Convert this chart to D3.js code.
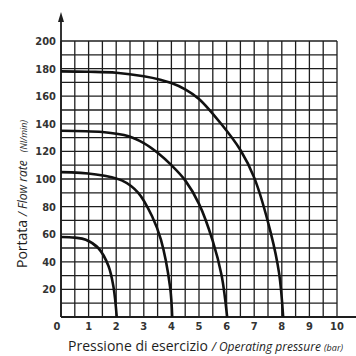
<!DOCTYPE html>
<html>
<head>
<meta charset="utf-8">
<script src="https://cdn.jsdelivr.net/npm/d3@7"></script>
<style>
  body { margin: 0; background: #fff; }
</style>
</head>
<body>
<script>
// curves: [pressure (bar), flow rate (Nl/min)]
let curve2bar = [[0, 58], [0.5, 57.5], [0.9, 56], [1.35, 50], [1.72, 37], [1.9, 22], [2.02, 0]];
let curve4bar = [[0, 105], [1.2, 103.5], [2.2, 99], [2.8, 90], [3.3, 73], [3.62, 56], [3.95, 22], [4.03, 0]];
let curve6bar = [[0, 135], [1.5, 134], [2.45, 131], [3, 126], [3.5, 119], [4, 110], [4.5, 99], [5, 82], [5.5, 55], [5.82, 30], [6.02, 0]];
let curve8bar = [[0, 178], [1, 177.7], [2, 177], [3, 174.5], [3.6, 172], [4, 169.5], [4.5, 165], [5, 158], [5.8, 140], [6.5, 121], [7, 101], [7.6, 61], [7.9, 32], [8.05, 0]];
let curves = [curve2bar, curve4bar, curve6bar, curve8bar];

let xTicks = [0, 1, 2, 3, 4, 5, 6, 7, 8, 9, 10];
let yTicks = [20, 40, 60, 80, 100, 120, 140, 160, 180, 200];

let width = 356;
let height = 356;
let ink = "#1e1e1e";

let x = d3.scaleLinear().domain([0, 10]).range([61, 337]);
let y = d3.scaleLinear().domain([0, 200]).range([317, 41]);

let svg = d3.select("body").append("svg")
    .attr("width", width)
    .attr("height", height)
    .attr("viewBox", [0, 0, width, height]);

// grid: every 0.5 bar and every 10 Nl/min
let grid = svg.append("g")
    .attr("stroke", ink)
    .attr("stroke-width", 1.3);

grid.selectAll(".v")
    .data(d3.range(0, 10.01, 0.5))
    .join("line")
    .attr("x1", d => x(d))
    .attr("x2", d => x(d))
    .attr("y1", y(0))
    .attr("y2", y(200));

grid.selectAll(".h")
    .data(d3.range(0, 200.1, 10))
    .join("line")
    .attr("x1", x(0))
    .attr("x2", x(10))
    .attr("y1", d => y(d))
    .attr("y2", d => y(d));

// axes lines
svg.append("line")
    .attr("x1", x(0)).attr("x2", width)
    .attr("y1", y(0)).attr("y2", y(0))
    .attr("stroke", ink).attr("stroke-width", 1.8);

svg.append("line")
    .attr("x1", x(0)).attr("x2", x(0))
    .attr("y1", y(0)).attr("y2", 20)
    .attr("stroke", ink).attr("stroke-width", 1.8);

svg.append("path")
    .attr("d", `M${x(0)},12 L${x(0) - 3},22 L${x(0) + 3},22 Z`)
    .attr("fill", ink);

// tick labels
svg.append("g")
    .selectAll("text")
    .data(xTicks)
    .join("text")
    .attr("x", d => d === 0 ? x(d) - 4 : x(d))
    .attr("y", 330)
    .attr("text-anchor", "middle")
    .attr("font-family", "DejaVu Sans Condensed")
    .attr("font-weight", "bold")
    .attr("font-size", 11)
    .attr("fill", "#333")
    .text(d => d);

svg.append("g")
    .selectAll("text")
    .data(yTicks)
    .join("text")
    .attr("x", 56)
    .attr("y", d => y(d) + 4)
    .attr("text-anchor", "end")
    .attr("font-family", "DejaVu Sans Condensed")
    .attr("font-weight", "bold")
    .attr("font-size", 11)
    .attr("fill", "#333")
    .text(d => d);

// curves
let line = d3.line()
    .x(d => x(d[0]))
    .y(d => y(d[1]))
    .curve(d3.curveCatmullRom.alpha(0.5));

svg.append("g")
    .selectAll("path")
    .data(curves)
    .join("path")
    .attr("fill", "none")
    .attr("stroke", "#111")
    .attr("stroke-width", 2.6)
    .attr("d", line);

// axis titles
let xTitle = svg.append("text")
    .attr("x", 68)
    .attr("y", 351)
    .attr("font-family", "Open Sans")
    .attr("fill", ink);
xTitle.append("tspan").attr("font-size", 14).text("Pressione di esercizio ");
xTitle.append("tspan").attr("font-size", 12).attr("font-style", "italic").text("/ Operating pressure ");
xTitle.append("tspan").attr("font-size", 9).attr("font-style", "italic").text("(bar)");

let yTitle = svg.append("text")
    .attr("transform", "translate(27,268) rotate(-90)")
    .attr("font-family", "Open Sans")
    .attr("fill", ink);
yTitle.append("tspan").attr("font-size", 14).text("Portata ");
yTitle.append("tspan").attr("font-size", 12).attr("font-style", "italic").text("/ Flow rate ");
yTitle.append("tspan").attr("font-size", 9).attr("font-style", "italic").attr("dx", 5).text("(Nl/min)");
</script>
</body>
</html>
